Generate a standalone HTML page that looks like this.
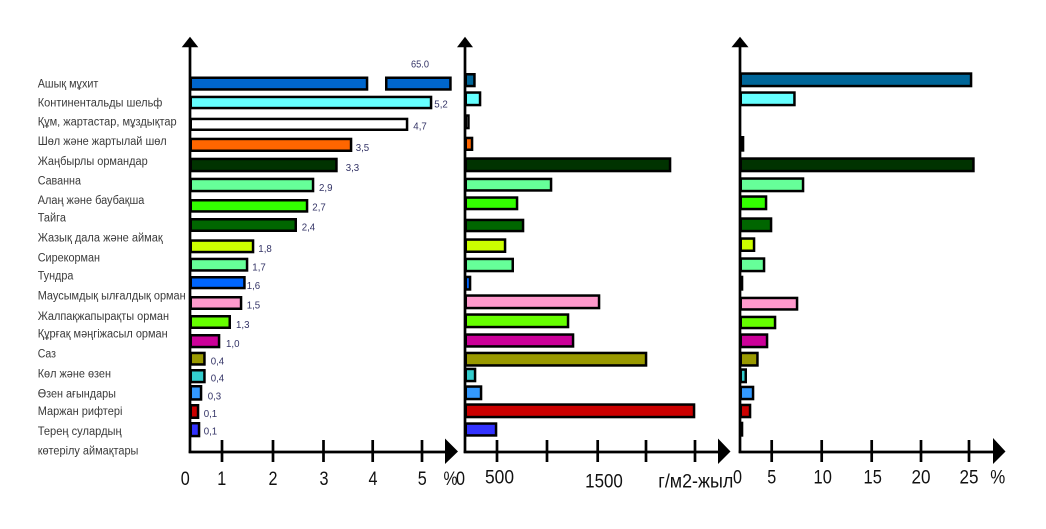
<!DOCTYPE html>
<html><head><meta charset="utf-8"><style>
html,body{margin:0;padding:0;background:#fff;}
svg{display:block;}
.lb{font-family:"Liberation Sans","DejaVu Sans",sans-serif;font-size:11.5px;fill:#3a3a3a;}
.vl{font-family:"Liberation Sans","DejaVu Sans",sans-serif;font-size:10.5px;fill:#333366;}
.tk{font-family:"Liberation Sans","DejaVu Sans",sans-serif;font-size:19.5px;fill:#111;}
</style></head><body>
<svg width="1046" height="529" viewBox="0 0 1046 529" xmlns="http://www.w3.org/2000/svg">
<rect width="1046" height="529" fill="#fff"/>
<g class="lb">
<text x="37.7" y="87.3" textLength="60.7" lengthAdjust="spacingAndGlyphs">Ашық мұхит</text>
<text x="37.7" y="106.3" textLength="124.7" lengthAdjust="spacingAndGlyphs">Континентальды шельф</text>
<text x="37.7" y="125.5" textLength="139" lengthAdjust="spacingAndGlyphs">Құм, жартастар, мұздықтар</text>
<text x="37.7" y="145" textLength="129" lengthAdjust="spacingAndGlyphs">Шөл және жартылай шөл</text>
<text x="37.7" y="165" textLength="110" lengthAdjust="spacingAndGlyphs">Жаңбырлы ормандар</text>
<text x="37.7" y="184.3" textLength="43.3" lengthAdjust="spacingAndGlyphs">Саванна</text>
<text x="37.7" y="204" textLength="106.7" lengthAdjust="spacingAndGlyphs">Алаң және баубақша</text>
<text x="37.7" y="221.7" textLength="28.3" lengthAdjust="spacingAndGlyphs">Тайга</text>
<text x="37.7" y="241.7" textLength="125" lengthAdjust="spacingAndGlyphs">Жазық дала және аймақ</text>
<text x="37.7" y="261.7" textLength="62.3" lengthAdjust="spacingAndGlyphs">Сирекорман</text>
<text x="37.7" y="279.3" textLength="35.7" lengthAdjust="spacingAndGlyphs">Тундра</text>
<text x="37.7" y="299.3" textLength="148" lengthAdjust="spacingAndGlyphs">Маусымдық ылғалдық орман</text>
<text x="37.7" y="320" textLength="131.3" lengthAdjust="spacingAndGlyphs">Жалпақжапырақты орман</text>
<text x="37.7" y="337.7" textLength="130" lengthAdjust="spacingAndGlyphs">Құрғақ мәңгіжасыл орман</text>
<text x="37.7" y="357.7" textLength="18.3" lengthAdjust="spacingAndGlyphs">Саз</text>
<text x="37.7" y="377.7" textLength="73.3" lengthAdjust="spacingAndGlyphs">Көл және өзен</text>
<text x="37.7" y="397.7" textLength="78.3" lengthAdjust="spacingAndGlyphs">Өзен ағындары</text>
<text x="37.7" y="415" textLength="84.7" lengthAdjust="spacingAndGlyphs">Маржан рифтері</text>
<text x="37.7" y="435" textLength="84" lengthAdjust="spacingAndGlyphs">Терең сулардың</text>
<text x="37.7" y="454.3" textLength="100.7" lengthAdjust="spacingAndGlyphs">көтерілу аймақтары</text>
</g>
<g stroke="#000" stroke-width="2.5">
<!-- panel 1 -->
<rect x="190.75" y="77.75" width="176.3" height="11.7" fill="#0066CC"/>
<rect x="386.25" y="77.75" width="64.2" height="11.7" fill="#0066CC"/>
<rect x="190.75" y="96.95" width="240.3" height="11.1" fill="#66FFFF"/>
<rect x="190.75" y="118.95" width="216.3" height="10.8" fill="#FFFFFF"/>
<rect x="190.75" y="138.95" width="160.3" height="11.8" fill="#FF6600"/>
<rect x="190.75" y="158.95" width="145.7" height="12.1" fill="#003300"/>
<rect x="190.75" y="178.95" width="122.3" height="12.1" fill="#66FF99"/>
<rect x="190.75" y="200.25" width="116.3" height="11.2" fill="#33FF00"/>
<rect x="190.75" y="219.25" width="105" height="11.5" fill="#006600"/>
<rect x="190.75" y="240.55" width="62.3" height="11.5" fill="#CCFF00"/>
<rect x="190.75" y="258.95" width="56.3" height="11.5" fill="#66FF99"/>
<rect x="190.75" y="277.25" width="53.7" height="10.8" fill="#0066FF"/>
<rect x="190.75" y="297.25" width="50.3" height="11.5" fill="#FF99CC"/>
<rect x="190.75" y="316.25" width="39" height="11.5" fill="#66FF00"/>
<rect x="190.75" y="335.25" width="28.3" height="11.8" fill="#CC0099"/>
<rect x="190.75" y="352.95" width="13.7" height="11.5" fill="#999900"/>
<rect x="190.75" y="370.25" width="13.7" height="11.8" fill="#33CCCC"/>
<rect x="190.75" y="386.25" width="10.3" height="13.2" fill="#3399FF"/>
<rect x="190.75" y="405.25" width="7.3" height="12.5" fill="#CC0000"/>
<rect x="190.75" y="423.25" width="8.3" height="12.8" fill="#3333FF"/>
<!-- panel 2 -->
<rect x="465.75" y="74.25" width="8.7" height="11.8" fill="#006699"/>
<rect x="465.75" y="92.55" width="14.3" height="12.5" fill="#66FFFF"/>
<rect x="465.75" y="115.55" width="2.7" height="12.5" fill="#FFFFFF"/>
<rect x="465.75" y="137.95" width="6.3" height="11.8" fill="#FF6600"/>
<rect x="465.75" y="158.55" width="204.3" height="12.5" fill="#003300"/>
<rect x="465.75" y="178.95" width="85.3" height="11.5" fill="#66FF99"/>
<rect x="465.75" y="197.55" width="51.3" height="11.5" fill="#33FF00"/>
<rect x="465.75" y="219.95" width="57.3" height="11.1" fill="#006600"/>
<rect x="465.75" y="239.55" width="39.3" height="12.2" fill="#CCFF00"/>
<rect x="465.75" y="258.95" width="47" height="12.1" fill="#66FF99"/>
<rect x="465.75" y="276.95" width="4.3" height="12.5" fill="#0066FF"/>
<rect x="465.75" y="295.55" width="133.3" height="12.5" fill="#FF99CC"/>
<rect x="465.75" y="314.55" width="102.3" height="12.5" fill="#66FF00"/>
<rect x="465.75" y="334.55" width="107.3" height="11.9" fill="#CC0099"/>
<rect x="465.75" y="352.95" width="180.3" height="12.5" fill="#999900"/>
<rect x="465.75" y="368.95" width="9.3" height="12.1" fill="#33CCCC"/>
<rect x="465.75" y="386.55" width="15.3" height="12.5" fill="#3399FF"/>
<rect x="465.75" y="404.55" width="228.3" height="12.5" fill="#CC0000"/>
<rect x="465.75" y="423.55" width="30.3" height="11.9" fill="#3333FF"/>
<!-- panel 3 -->
<rect x="740.75" y="73.55" width="230.3" height="12.5" fill="#006699"/>
<rect x="740.75" y="92.55" width="53.7" height="12.5" fill="#66FFFF"/>
<rect x="740.75" y="137.25" width="2.3" height="13.2" fill="#FF6600"/>
<rect x="740.75" y="158.55" width="232.7" height="12.5" fill="#003300"/>
<rect x="740.75" y="178.55" width="62.3" height="12.5" fill="#66FF99"/>
<rect x="740.75" y="196.55" width="25.3" height="12.5" fill="#33FF00"/>
<rect x="740.75" y="218.55" width="30.3" height="12.5" fill="#006600"/>
<rect x="740.75" y="238.55" width="13.3" height="12.2" fill="#CCFF00"/>
<rect x="740.75" y="258.55" width="23.3" height="12.5" fill="#66FF99"/>
<rect x="740.75" y="276.95" width="1.3" height="12.5" fill="#0066FF"/>
<rect x="740.75" y="297.95" width="56.3" height="11.5" fill="#FF99CC"/>
<rect x="740.75" y="316.95" width="34.3" height="11.1" fill="#66FF00"/>
<rect x="740.75" y="334.55" width="26.3" height="12.5" fill="#CC0099"/>
<rect x="740.75" y="352.95" width="16.7" height="12.5" fill="#999900"/>
<rect x="740.75" y="369.55" width="5" height="12.5" fill="#33CCCC"/>
<rect x="740.75" y="386.95" width="12.3" height="12.1" fill="#3399FF"/>
<rect x="740.75" y="404.95" width="9.3" height="12.1" fill="#CC0000"/>
<rect x="740.75" y="422.95" width="1.3" height="12.5" fill="#3333FF"/>
</g>
<!-- axes -->
<g stroke="#000" stroke-width="2.7" fill="none">
<line x1="190" y1="46" x2="190" y2="453"/>
<line x1="188.7" y1="452" x2="447" y2="452"/>
<line x1="465" y1="46" x2="465" y2="453"/>
<line x1="463.7" y1="452" x2="720" y2="452"/>
<line x1="740" y1="46" x2="740" y2="453"/>
<line x1="738.7" y1="452" x2="995" y2="452"/>
<line x1="222" y1="440" x2="222" y2="462"/>
<line x1="273" y1="440" x2="273" y2="462"/>
<line x1="323.5" y1="440" x2="323.5" y2="462"/>
<line x1="372.7" y1="440" x2="372.7" y2="462"/>
<line x1="422" y1="440" x2="422" y2="462"/>
<line x1="497" y1="440" x2="497" y2="462"/>
<line x1="547" y1="440" x2="547" y2="462"/>
<line x1="597.7" y1="440" x2="597.7" y2="462"/>
<line x1="646" y1="440" x2="646" y2="462"/>
<line x1="695" y1="440" x2="695" y2="462"/>
<line x1="771.7" y1="440" x2="771.7" y2="462"/>
<line x1="821.7" y1="440" x2="821.7" y2="462"/>
<line x1="871.7" y1="440" x2="871.7" y2="462"/>
<line x1="921" y1="440" x2="921" y2="462"/>
<line x1="969" y1="440" x2="969" y2="462"/>
</g>
<g fill="#000">
<polygon points="181.7,47.3 190,36.7 198.3,47.3"/>
<polygon points="457,47.3 465,36.7 473,47.3"/>
<polygon points="731.5,47.3 740,36.7 748.5,47.3"/>
<polygon points="445,438.5 458,451.5 445,464"/>
<polygon points="718,438.5 730.5,451.5 718,464"/>
<polygon points="993,438 1005.5,451.5 993,464"/>
</g>
<!-- value labels -->
<g class="vl">
<text x="411" y="67.3" textLength="18" lengthAdjust="spacingAndGlyphs">65.0</text>
<text x="434.3" y="107.3" textLength="13.5" lengthAdjust="spacingAndGlyphs">5,2</text>
<text x="413.3" y="129.5" textLength="13.5" lengthAdjust="spacingAndGlyphs">4,7</text>
<text x="355.7" y="151.2" textLength="13.5" lengthAdjust="spacingAndGlyphs">3,5</text>
<text x="345.7" y="171.2" textLength="13.5" lengthAdjust="spacingAndGlyphs">3,3</text>
<text x="319" y="191.2" textLength="13.5" lengthAdjust="spacingAndGlyphs">2,9</text>
<text x="312.3" y="210.5" textLength="13.5" lengthAdjust="spacingAndGlyphs">2,7</text>
<text x="301.7" y="230.5" textLength="13.5" lengthAdjust="spacingAndGlyphs">2,4</text>
<text x="258.3" y="252.2" textLength="13.5" lengthAdjust="spacingAndGlyphs">1,8</text>
<text x="252.3" y="270.5" textLength="13.5" lengthAdjust="spacingAndGlyphs">1,7</text>
<text x="246.7" y="288.8" textLength="13.5" lengthAdjust="spacingAndGlyphs">1,6</text>
<text x="246.7" y="308.5" textLength="13.5" lengthAdjust="spacingAndGlyphs">1,5</text>
<text x="236" y="327.8" textLength="13.5" lengthAdjust="spacingAndGlyphs">1,3</text>
<text x="226" y="346.8" textLength="13.5" lengthAdjust="spacingAndGlyphs">1,0</text>
<text x="210.7" y="364.5" textLength="13.5" lengthAdjust="spacingAndGlyphs">0,4</text>
<text x="210.7" y="381.5" textLength="13.5" lengthAdjust="spacingAndGlyphs">0,4</text>
<text x="207.7" y="399.5" textLength="13.5" lengthAdjust="spacingAndGlyphs">0,3</text>
<text x="203.7" y="416.8" textLength="13.5" lengthAdjust="spacingAndGlyphs">0,1</text>
<text x="203.7" y="434.5" textLength="13.5" lengthAdjust="spacingAndGlyphs">0,1</text>
</g>
<!-- tick labels -->
<g class="tk" text-anchor="middle">
<text x="185.3" y="485" textLength="9" lengthAdjust="spacingAndGlyphs">0</text>
<text x="221.7" y="485" textLength="9" lengthAdjust="spacingAndGlyphs">1</text>
<text x="273" y="485" textLength="9" lengthAdjust="spacingAndGlyphs">2</text>
<text x="324" y="485" textLength="9" lengthAdjust="spacingAndGlyphs">3</text>
<text x="373" y="485" textLength="9" lengthAdjust="spacingAndGlyphs">4</text>
<text x="422.3" y="485" textLength="9" lengthAdjust="spacingAndGlyphs">5</text>
<text x="450.5" y="485" textLength="14" lengthAdjust="spacingAndGlyphs">%</text>
<text x="460.5" y="485" textLength="9" lengthAdjust="spacingAndGlyphs">0</text>
<text x="499.5" y="483.3" textLength="29" lengthAdjust="spacingAndGlyphs">500</text>
<text x="604" y="487.7" textLength="37.7" lengthAdjust="spacingAndGlyphs">1500</text>
<text x="695.8" y="487.7" textLength="75" lengthAdjust="spacingAndGlyphs">г/м2-жыл</text>
<text x="737.5" y="483.3" textLength="9" lengthAdjust="spacingAndGlyphs">0</text>
<text x="771.7" y="483.3" textLength="9" lengthAdjust="spacingAndGlyphs">5</text>
<text x="822.7" y="483.3" textLength="18.3" lengthAdjust="spacingAndGlyphs">10</text>
<text x="872.7" y="483.3" textLength="18.3" lengthAdjust="spacingAndGlyphs">15</text>
<text x="921" y="483.3" textLength="19" lengthAdjust="spacingAndGlyphs">20</text>
<text x="969" y="483.3" textLength="19" lengthAdjust="spacingAndGlyphs">25</text>
<text x="997.7" y="483.3" textLength="15" lengthAdjust="spacingAndGlyphs">%</text>
</g>
</svg>
</body></html>
